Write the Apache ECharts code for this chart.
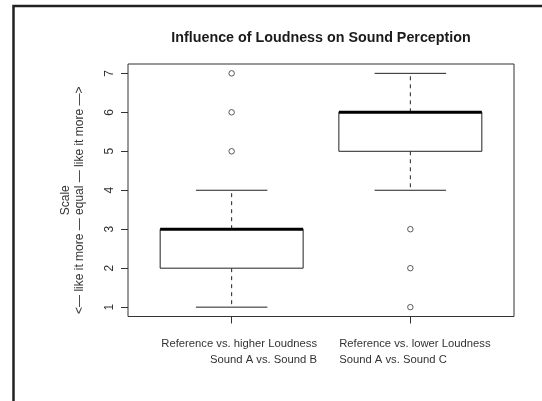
<!DOCTYPE html>
<html>
<head>
<meta charset="utf-8">
<script src="https://cdn.jsdelivr.net/npm/echarts@6/dist/echarts.min.js"></script>
<style>html,body{margin:0;padding:0;background:#fff}#c{width:542px;height:401px}</style>
</head>
<body>
<div id="c"></div>
<script>
// ---- data ----
const categories = ['Reference vs. higher Loudness\nSound A vs. Sound B', 'Reference vs. lower Loudness\nSound A vs. Sound C'];
const positions = [1, 2];
const mins = [1, 4];
const q1s = [2, 5];
const medians = [3, 6];
const q3s = [3, 6];
const maxs = [4, 7];
const outlierX = [1, 1, 1, 2, 2, 2];
const outlierY = [5, 6, 7, 1, 2, 3];
const yTicks = [1, 2, 3, 4, 5, 6, 7];

const FONT = 'Liberation Sans, Arial, sans-serif';
const BOX_W = 0.8;

const boxData = positions.map((p, i) => [p, mins[i], q1s[i], medians[i], q3s[i], maxs[i]]);
const outData = outlierX.map((x, i) => [x, outlierY[i]]);

const chart = echarts.init(document.getElementById('c'));
chart.setOption({
  backgroundColor: '#fff',
  animation: false,
  title: {
    text: 'Influence of Loudness on Sound Perception',
    left: 321, top: 31, padding: 0, textAlign: 'center',
    textStyle: { fontFamily: FONT, fontSize: 14.3, fontWeight: 'bold', color: '#1a1a1a' }
  },
  grid: {
    left: 128, top: 64, right: 28, bottom: 84.5,
    show: true, borderColor: '#333', borderWidth: 1, backgroundColor: 'transparent'
  },
  xAxis: {
    type: 'value', min: 0.42, max: 2.58,
    axisLine: { show: false }, splitLine: { show: false },
    axisTick: { show: true, customValues: positions, length: 7, lineStyle: { color: '#333' } },
    axisLabel: {
      customValues: positions, margin: 19, color: '#333', align: 'center',
      fontFamily: FONT, fontSize: 11.25, lineHeight: 16,
      formatter: function (v) {
        const i = positions.indexOf(v);
        const lines = categories[i].split('\n');
        const st = i === 0 ? 'r' : 'l';
        return lines.map(s => '{' + st + '|' + s + '}').join('\n');
      },
      rich: {
        r: { align: 'right', padding: [0, 0, 0, 15], fontFamily: FONT, fontSize: 11.25, lineHeight: 16, color: '#333' },
        l: { align: 'left', padding: [0, 0, 0, 9], fontFamily: FONT, fontSize: 11.25, lineHeight: 16, color: '#333' }
      }
    }
  },
  yAxis: {
    type: 'value', min: 0.76, max: 7.24,
    axisLine: { show: false }, splitLine: { show: false },
    axisTick: { show: true, customValues: yTicks, length: 7, lineStyle: { color: '#333' } },
    axisLabel: { customValues: yTicks, rotate: 90, margin: 12, color: '#333', fontFamily: FONT, fontSize: 12 },
    name: 'Scale\n<\u2014 like it more \u2014 equal \u2014 like it more \u2014>',
    nameLocation: 'middle', nameRotate: 90, nameGap: 41,
    nameTextStyle: { fontFamily: FONT, fontSize: 12, lineHeight: 14, color: '#333', padding: [0, 20, 0, 0] }
  },
  series: [
    {
      type: 'custom',
      data: boxData,
      encode: { x: 0, y: [1, 2, 3, 4, 5] },
      renderItem: function (params, api) {
        const x = api.value(0);
        const w = api.size([BOX_W, 0])[0];
        const pLo = api.coord([x, api.value(1)]);
        const pQ1 = api.coord([x, api.value(2)]);
        const pMed = api.coord([x, api.value(3)]);
        const pQ3 = api.coord([x, api.value(4)]);
        const pHi = api.coord([x, api.value(5)]);
        const cx = pMed[0];
        const stroke = '#222';
        const dash = { stroke: stroke, lineWidth: 1, lineDash: [4, 4] };
        const solid = { stroke: stroke, lineWidth: 1 };
        return {
          type: 'group',
          children: [
            { type: 'line', shape: { x1: cx, y1: pQ3[1], x2: cx, y2: pHi[1] }, style: dash },
            { type: 'line', shape: { x1: cx, y1: pQ1[1], x2: cx, y2: pLo[1] }, style: dash },
            { type: 'line', shape: { x1: cx - w / 4, y1: pHi[1], x2: cx + w / 4, y2: pHi[1] }, style: solid },
            { type: 'line', shape: { x1: cx - w / 4, y1: pLo[1], x2: cx + w / 4, y2: pLo[1] }, style: solid },
            { type: 'rect', shape: { x: cx - w / 2, y: pQ3[1], width: w, height: pQ1[1] - pQ3[1] }, style: { fill: '#fff', stroke: stroke, lineWidth: 1 } },
            { type: 'line', shape: { x1: cx - w / 2, y1: pMed[1], x2: cx + w / 2, y2: pMed[1] }, style: { stroke: '#000', lineWidth: 3 } }
          ]
        };
      }
    },
    {
      type: 'scatter',
      data: outData,
      symbol: 'circle', symbolSize: 5.5,
      itemStyle: { color: '#fff', borderColor: '#333', borderWidth: 1 }
    }
  ],
  graphic: [
    { type: 'polyline', silent: true, shape: { points: [[13.5, 401], [13.5, 6], [542, 6]] }, style: { stroke: '#222', lineWidth: 2.5, fill: null } }
  ]
});
</script>
</body>
</html>
